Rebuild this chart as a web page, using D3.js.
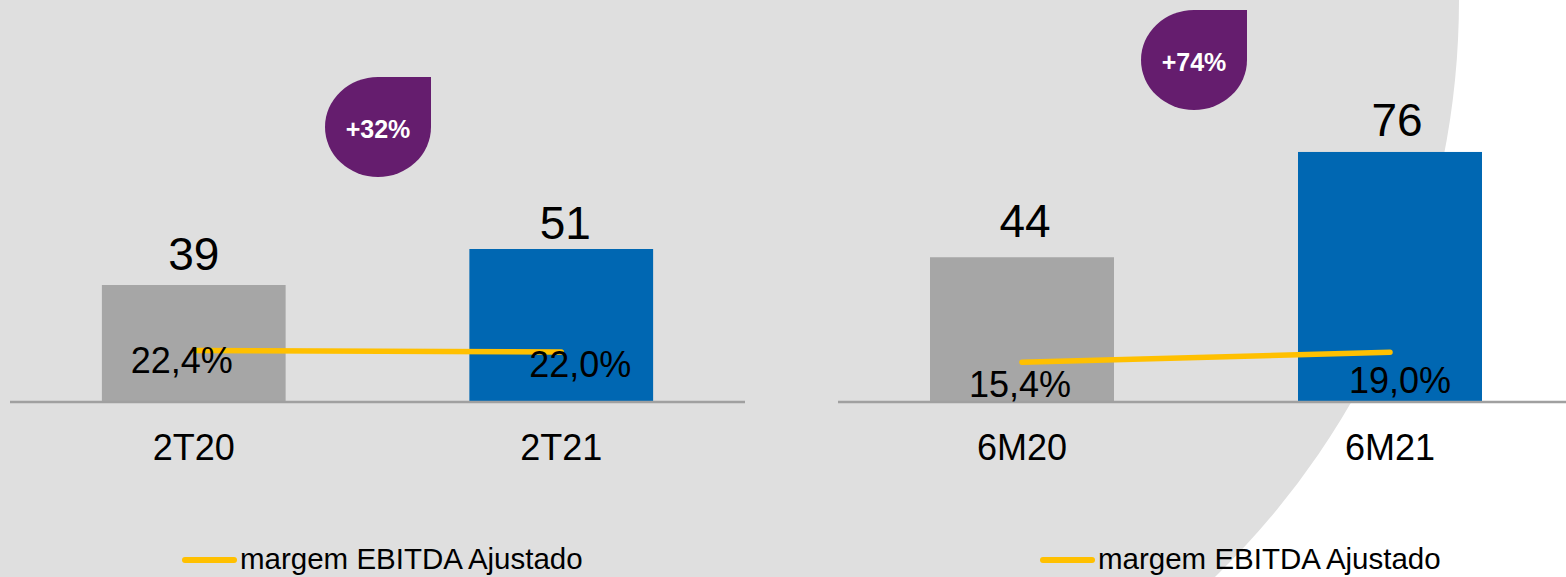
<!DOCTYPE html>
<html>
<head>
<meta charset="utf-8">
<script src="https://cdn.jsdelivr.net/npm/d3@7/dist/d3.min.js"></script>
<style>
  html, body { margin: 0; padding: 0; background: #ffffff; }
  svg { display: block; font-family: "Liberation Sans", Arial, sans-serif; }
</style>
</head>
<body>
<svg id="chart" width="1566" height="577"></svg>
<script>
// ---------- data ----------
const categoriesQ = ["2T20", "2T21"];
const ebitdaQ = [39, 51];
const marginQ = [22.4, 22.0];
const growthQ = "+32%";

const categoriesS = ["6M20", "6M21"];
const ebitdaS = [44, 76];
const marginS = [15.4, 19.0];
const growthS = "+74%";

const legendLabel = "margem EBITDA Ajustado";

// ---------- layout / style ----------
const W = 1566, H = 577;
const colors = { bg: "#dfdfdf", prev: "#a6a6a6", curr: "#0067b2", line: "#ffc000", badge: "#651d6e", axis: "#a0a0a0" };

const panels = [
  { cats: categoriesQ, bars: ebitdaQ, margins: marginQ, growth: growthQ,
    xRange: [10, 745], axisEnd: 745, barRange: [402, 102], lineRange: [440, 320],
    valueGap: [15, 10], valueDx: [0, 4], pctOffset: [[-12, 23], [19, 25]],
    badge: { x: 325, y: 77 }, legendX: 182 },
  { cats: categoriesS, bars: ebitdaS, margins: marginS, growth: growthS,
    xRange: [838, 1574], axisEnd: 1566, barRange: [402, 73], lineRange: [405, 321.6],
    valueGap: [20, 16], valueDx: [3, 7], pctOffset: [[-2, 35], [10, 41]],
    badge: { x: 1141, y: 10 }, legendX: 1040 }
];

const baseY = 402;
const svg = d3.select("#chart");

// background: gray with a white region outside a large arc on the right
svg.append("rect").attr("width", W).attr("height", H).attr("fill", colors.bg);
const arcR = 804;
svg.append("path")
  .attr("d", `M1459,0 A${arcR},${arcR} 0 0 1 1215,577 L${W},${H} L${W},0 Z`)
  .attr("fill", "#ffffff");

const fmtPct = v => v.toFixed(1).replace(".", ",") + "%";

panels.forEach(p => {
  const g = svg.append("g");
  const x = d3.scaleBand().domain(p.cats).range(p.xRange).paddingInner(0.5).paddingOuter(0.25);
  const y = d3.scaleLinear().domain([0, 100]).range(p.barRange);
  const yl = d3.scaleLinear().domain([0, 30]).range(p.lineRange);

  // bars
  g.selectAll("rect.bar").data(p.bars).join("rect")
    .attr("class", "bar")
    .attr("x", (d, i) => x(p.cats[i]))
    .attr("width", x.bandwidth())
    .attr("y", d => y(d))
    .attr("height", d => y(0) - y(d))
    .attr("fill", (d, i) => i === 0 ? colors.prev : colors.curr);

  // axis
  const axis = d3.axisBottom(x).tickSize(0).tickPadding(0);
  const ax = g.append("g").attr("transform", `translate(0,${baseY})`).call(axis);
  ax.select(".domain").remove();
  ax.append("line").attr("x1", p.xRange[0]).attr("x2", p.axisEnd)
    .attr("stroke", colors.axis).attr("stroke-width", 2.3);
  ax.selectAll(".tick text")
    .attr("dy", null).attr("y", 58)
    .attr("fill", "#000").attr("font-size", 36)
    .attr("font-family", "Liberation Sans, Arial, sans-serif");

  // value labels
  g.selectAll("text.val").data(p.bars).join("text")
    .attr("class", "val")
    .attr("x", (d, i) => x(p.cats[i]) + x.bandwidth() / 2 + p.valueDx[i])
    .attr("y", (d, i) => y(d) - p.valueGap[i])
    .attr("text-anchor", "middle").attr("font-size", 46).attr("fill", "#000")
    .text(d => d);

  // margin line
  const line = d3.line()
    .x((d, i) => x(p.cats[i]) + x.bandwidth() / 2)
    .y(d => yl(d));
  g.append("path").datum(p.margins)
    .attr("d", line).attr("fill", "none")
    .attr("stroke", colors.line).attr("stroke-width", 5.5).attr("stroke-linecap", "round");

  // margin labels
  g.selectAll("text.pct").data(p.margins).join("text")
    .attr("class", "pct")
    .attr("x", (d, i) => x(p.cats[i]) + x.bandwidth() / 2 + p.pctOffset[i][0])
    .attr("y", (d, i) => yl(d) + p.pctOffset[i][1])
    .attr("text-anchor", "middle").attr("font-size", 36).attr("fill", "#000")
    .text(d => fmtPct(d));

  // growth badge
  const bw = 106, bh = 100, rx = bw / 2, ry = bh / 2;
  const bx = p.badge.x, by = p.badge.y;
  g.append("path")
    .attr("d", `M${bx + rx},${by} L${bx + bw},${by} L${bx + bw},${by + ry} ` +
      `A${rx},${ry} 0 0 1 ${bx + rx},${by + bh} A${rx},${ry} 0 0 1 ${bx},${by + ry} ` +
      `A${rx},${ry} 0 0 1 ${bx + rx},${by} Z`)
    .attr("fill", colors.badge);
  g.append("text")
    .attr("x", bx + rx).attr("y", by + ry + 10.5)
    .attr("text-anchor", "middle").attr("font-size", 25).attr("font-weight", "bold")
    .attr("fill", "#ffffff").text(p.growth);

  // legend
  const lg = g.append("g");
  lg.append("line").attr("x1", p.legendX + 3).attr("x2", p.legendX + 52)
    .attr("y1", 560).attr("y2", 560)
    .attr("stroke", colors.line).attr("stroke-width", 6).attr("stroke-linecap", "round");
  lg.append("text").attr("x", p.legendX + 58).attr("y", 569)
    .attr("font-size", 29.5).attr("fill", "#000").text(legendLabel);
});
</script>
</body>
</html>
